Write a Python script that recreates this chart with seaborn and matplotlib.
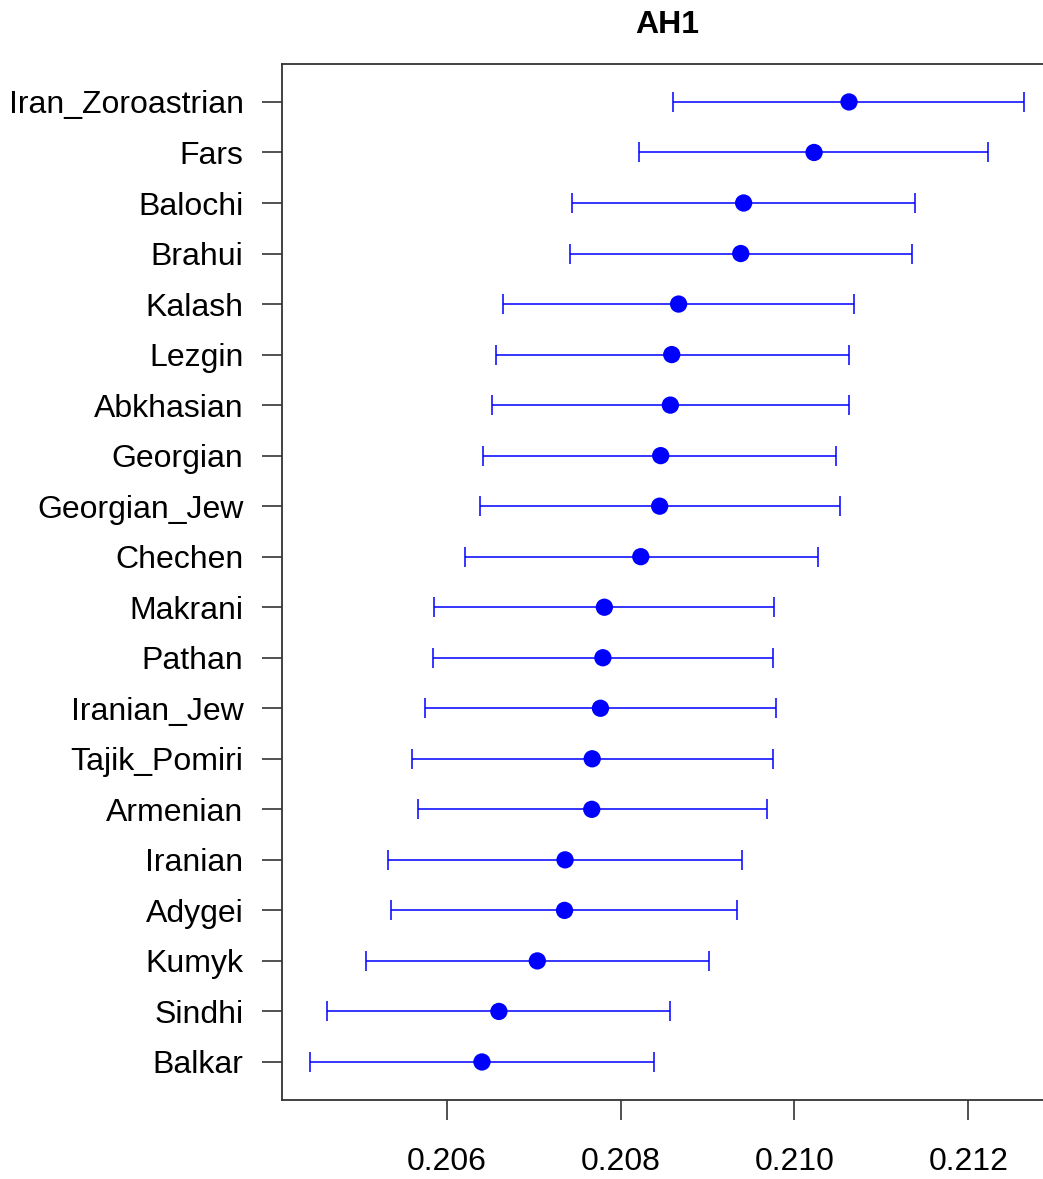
import numpy as np
import pandas as pd
import seaborn as sns
import matplotlib.pyplot as plt

# populations, top to bottom
pops = ['Iran_Zoroastrian', 'Fars', 'Balochi', 'Brahui', 'Kalash', 'Lezgin',
        'Abkhasian', 'Georgian', 'Georgian_Jew', 'Chechen', 'Makrani', 'Pathan',
        'Iranian_Jew', 'Tajik_Pomiri', 'Armenian', 'Iranian', 'Adygei', 'Kumyk',
        'Sindhi', 'Balkar']
est = [0.210627, 0.210225, 0.209415, 0.209382, 0.208667, 0.208588,
       0.208572, 0.208461, 0.208449, 0.208232, 0.207813, 0.207796,
       0.207768, 0.207673, 0.207668, 0.207361, 0.207355, 0.207042,
       0.206600, 0.206405]
lower = [0.208606, 0.208209, 0.207438, 0.207416, 0.206645, 0.206561,
         0.206522, 0.206416, 0.206377, 0.206205, 0.205859, 0.205841,
         0.205747, 0.205601, 0.205669, 0.205322, 0.205362, 0.205071,
         0.204624, 0.204429]
upper = [0.212638, 0.212230, 0.211381, 0.211348, 0.210683, 0.210632,
         0.210632, 0.210482, 0.210521, 0.210270, 0.209767, 0.209750,
         0.209783, 0.209750, 0.209678, 0.209394, 0.209337, 0.209013,
         0.208566, 0.208388]
xticks = [0.206, 0.208, 0.210, 0.212]

df = pd.DataFrame({'pop': pops, 'est': est, 'lo': lower, 'hi': upper})
df['pos'] = np.arange(len(df))

sns.set_style('white')
plt.rcParams['font.family'] = ['Liberation Sans', 'DejaVu Sans']

fig = plt.figure(figsize=(10.43, 11.79), dpi=100)
ax = fig.add_axes([0.270, 0.0667, 0.739, 0.8794])

ax.errorbar(df['est'], df['pos'],
            xerr=[df['est'] - df['lo'], df['hi'] - df['est']],
            fmt='none', ecolor='blue', elinewidth=1.1, capsize=7.5,
            capthick=1.1, zorder=2)
sns.scatterplot(data=df, x='est', y='pos', color='blue', s=155,
                edgecolor='none', zorder=3, ax=ax)

# R style 4% padding
pad_x = (df['hi'].max() - df['lo'].min()) * 0.04
ax.set_xlim(df['lo'].min() - pad_x, df['hi'].max() + pad_x)
pad_y = (len(df) - 1) * 0.04
ax.set_ylim(len(df) - 1 + pad_y, -pad_y)

ax.set_yticks(df['pos'])
ax.set_yticklabels(df['pop'])
ax.set_xticks(xticks)
ax.set_xticklabels(['%.3f' % t for t in xticks])
ax.set_xlabel('')
ax.set_ylabel('')
ax.tick_params(axis='both', labelsize=23, length=14.4, width=1.2,
               color='#333333', labelcolor='black', direction='out',
               bottom=True, left=True, pad=13)
ax.tick_params(axis='x', pad=19)
for sp in ax.spines.values():
    sp.set_color('#333333')
    sp.set_linewidth(1.3)

ax.set_title('AH1', fontsize=23, fontweight='bold', color='black', pad=22)

fig.savefig('out.png', dpi=100)
